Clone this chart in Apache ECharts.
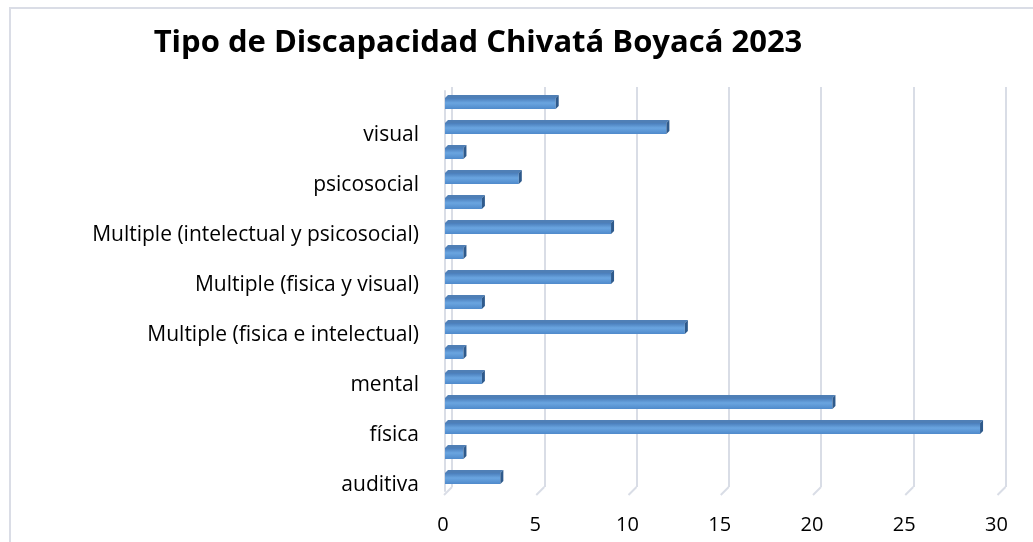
<!DOCTYPE html>
<html lang="es">
<head>
    <meta charset="UTF-8">
    <title>Tipo de Discapacidad Chivatá Boyacá 2023</title>
    <script src="https://cdn.jsdelivr.net/npm/echarts@6/dist/echarts.min.js"></script>
    <style>
        html, body { margin: 0; padding: 0; background: #fff; }
        #main { width: 1033px; height: 542px; }
    </style>
</head>
<body>
<div id="main"></div>
<script>
// categorias de abajo hacia arriba (solo se ven una de cada dos)
var categorias = [
    'auditiva', 'cognitiva', 'física', 'intelectual', 'mental',
    'Multiple (auditiva y fisica)', 'Multiple (fisica e intelectual)', 'Multiple (fisica y psicosocial)',
    'Multiple (fisica y visual)', 'Multiple (intelectual y fisica)', 'Multiple (intelectual y psicosocial)',
    'otra', 'psicosocial', 'sordoceguera', 'visual', 'voz y habla'
];
var personas = [3, 1, 29, 21, 2, 1, 13, 2, 9, 1, 9, 2, 4, 1, 12, 6];
var ticksX = [0, 5, 10, 15, 20, 25, 30];

var fuente = 'Open Sans';
var myChart = echarts.init(document.getElementById('main'));

// barra con efecto 3d (cara frontal, cara superior y lateral)
function barra3d(params, api) {
    var idx = api.value(0);
    var val = api.value(1);
    var ini = api.coord([0, idx]);
    var fin = api.coord([val, idx]);
    var h = 11, d = 3;
    var top = ini[1] - h / 2, bot = ini[1] + h / 2;
    return {
        type: 'group',
        children: [{
            type: 'polygon',
            shape: { points: [[ini[0], top], [ini[0] + d, top - d], [fin[0] + d, top - d], [fin[0], top]] },
            style: { fill: '#4f7fb6' }
        }, {
            type: 'rect',
            shape: { x: ini[0], y: top, width: fin[0] - ini[0], height: h },
            style: {
                fill: new echarts.graphic.LinearGradient(0, 0, 0, 1, [
                    { offset: 0, color: '#4a7dba' },
                    { offset: 0.45, color: '#6aa5e0' },
                    { offset: 1, color: '#4f8acb' }
                ])
            }
        }, {
            type: 'polygon',
            shape: { points: [[fin[0], top], [fin[0] + d, top - d], [fin[0] + d, bot - d], [fin[0], bot]] },
            style: { fill: '#2e5a8c' }
        }]
    };
}

// lineas diagonales del piso
function piso(params, api) {
    var v = api.value(0);
    var p = api.coord([v, 0]);
    var yb = params.coordSys.y + params.coordSys.height;
    return {
        type: 'line',
        shape: { x1: p[0] + 7, y1: yb - 4, x2: p[0] - 1, y2: yb + 4 },
        style: { stroke: '#d9dde6', lineWidth: 2 }
    };
}

var option = {
    backgroundColor: '#fff',
    animation: false,
    title: {
        text: 'Tipo de Discapacidad Chivatá Boyacá 2023',
        left: 473,
        textAlign: 'center',
        top: 23,
        textStyle: { fontFamily: fuente, fontWeight: 'bold', fontSize: 31, color: '#000' }
    },
    graphic: [{
        type: 'rect',
        shape: { x: 10, y: 8, width: 1100, height: 600 },
        style: { fill: 'none', stroke: '#dadde6', lineWidth: 2 },
        silent: true
    }],
    grid: [
        { left: 445, right: 34.5, top: 91, bottom: 51 },
        { left: 452, right: 27.5, top: 87, bottom: 55 },
        // etiquetas de categoria un poco mas abajo (piso frontal)
        { left: 445, right: 34.5, top: 97.5, bottom: 44.5 }
    ],
    xAxis: [{
        type: 'value', gridIndex: 0, min: 0, max: 30, interval: 5,
        axisLine: { show: false }, axisTick: { show: false }, splitLine: { show: false },
        axisLabel: { fontFamily: fuente, fontSize: 20, color: '#000', margin: 24, padding: [0, 4, 0, 0] }
    }, {
        type: 'value', gridIndex: 1, min: 0, max: 30, interval: 5,
        axisLine: { show: false }, axisTick: { show: false }, axisLabel: { show: false },
        splitLine: { lineStyle: { color: '#d9dde6', width: 2 } }
    }, {
        type: 'value', gridIndex: 2, min: 0, max: 30, show: false
    }],
    yAxis: [{
        type: 'category', gridIndex: 0, data: categorias,
        axisTick: { show: false }, axisLabel: { show: false },
        axisLine: { lineStyle: { color: '#d9dde6', width: 2 } }
    }, {
        type: 'category', gridIndex: 1, data: categorias, show: false
    }, {
        type: 'category', gridIndex: 2, data: categorias,
        axisTick: { show: false }, axisLine: { show: false },
        axisLabel: { interval: 1, fontFamily: fuente, fontSize: 21, color: '#000', margin: 26 }
    }],
    series: [{
        type: 'custom',
        xAxisIndex: 0, yAxisIndex: 0,
        renderItem: piso,
        data: ticksX.map(function (t) { return [t]; }),
        encode: { x: 0 },
        z: 1
    }, {
        name: 'Personas',
        type: 'custom',
        xAxisIndex: 0, yAxisIndex: 0,
        renderItem: barra3d,
        data: personas.map(function (v, i) { return [i, v]; }),
        encode: { y: 0, x: 1 },
        z: 3
    }]
};

myChart.setOption(option);
</script>
</body>
</html>
